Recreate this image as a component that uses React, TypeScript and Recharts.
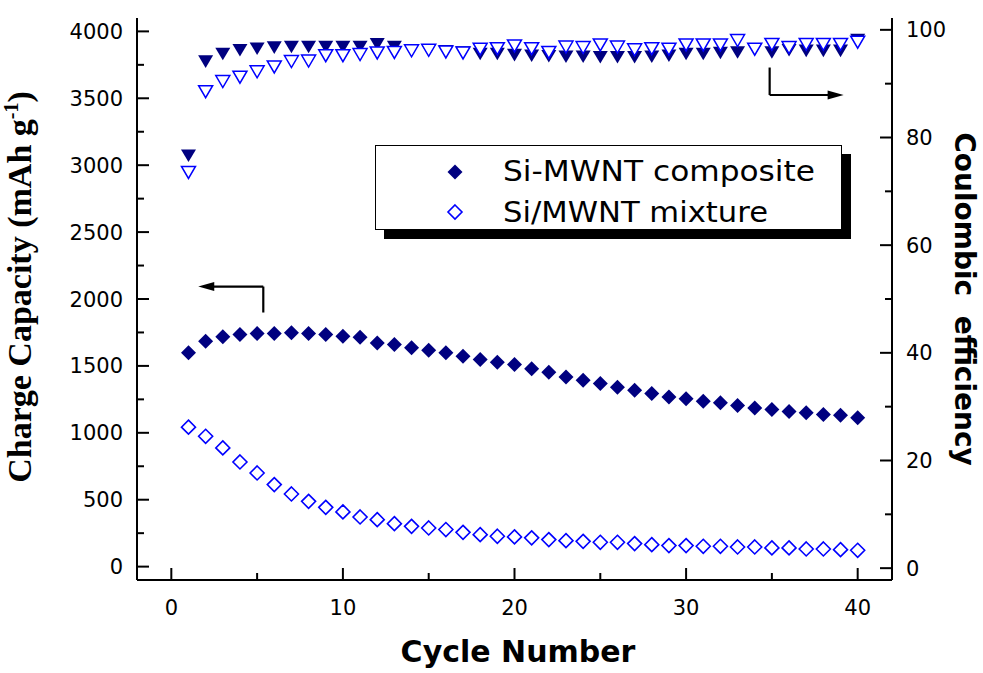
import React from 'react';
import { ComposedChart, Scatter, XAxis, YAxis, Legend, ReferenceLine } from 'recharts';

// ---------- data ----------
const cycles = [1, 2, 3, 4, 5, 6, 7, 8, 9, 10, 11, 12, 13, 14, 15, 16, 17, 18, 19, 20,
  21, 22, 23, 24, 25, 26, 27, 28, 29, 30, 31, 32, 33, 34, 35, 36, 37, 38, 39, 40];

const compositeCapacity = [1598, 1685, 1717, 1735, 1742, 1742, 1747, 1742, 1735, 1722,
  1714, 1672, 1660, 1635, 1617, 1598, 1573, 1548, 1528, 1510,
  1478, 1453, 1418, 1393, 1368, 1341, 1318, 1293, 1268, 1254,
  1236, 1224, 1204, 1186, 1174, 1159, 1149, 1136, 1131, 1112];

const mixtureCapacity = [1042, 974, 887, 782, 700, 613, 543, 488, 443, 409,
  371, 351, 321, 301, 289, 277, 256, 239, 227, 222,
  215, 202, 194, 189, 182, 182, 172, 164, 157, 157,
  152, 152, 147, 147, 140, 140, 132, 132, 127, 122];

const compositeEfficiency = [76.6, 94.1, 95.5, 96.2, 96.5, 96.7, 96.8, 96.8, 96.8, 96.8,
  96.8, 97.3, 96.8, 96.2, 96.2, 96.0, 95.8, 95.5, 95.5, 95.3,
  95.2, 95.1, 95.0, 95.0, 94.9, 94.9, 94.9, 95.0, 95.2, 95.5,
  95.5, 95.7, 95.8, 96.4, 95.8, 96.2, 96.1, 96.1, 96.1, 98.1];

const mixtureEfficiency = [73.5, 88.5, 90.4, 91.2, 92.2, 93.1, 94.1, 94.2, 95.2, 95.2,
  95.4, 95.7, 95.8, 96.1, 96.2, 95.9, 95.7, 96.4, 96.5, 97.0,
  96.5, 95.8, 96.8, 96.7, 97.2, 96.8, 96.3, 96.5, 96.4, 97.2,
  97.2, 97.2, 98.0, 96.4, 97.3, 96.7, 97.3, 97.3, 97.3, 97.7];

const seriesNames = ['Si-MWNT composite', 'Si/MWNT mixture'];

const xMajorTicks = [0, 10, 20, 30, 40];
const xMinorTicks = [5, 15, 25, 35];
const leftMajorTicks = [0, 500, 1000, 1500, 2000, 2500, 3000, 3500, 4000];
const leftMinorTicks = [250, 750, 1250, 1750, 2250, 2750, 3250, 3750];
const rightMajorTicks = [0, 20, 40, 60, 80, 100];
const rightMinorTicks = [10, 30, 50, 70, 90];

// arrow annotations (data coordinates)
const leftArrow = { x: 5.36, yFrom: 1899, yTo: 2093, tipX: 1.57 };
const rightArrow = { x: 34.87, yFrom: 93.0, yTo: 87.9, tipX: 39.18 };

// ---------- layout / styling ----------
const NAVY = '#000080';
const BLUE = '#0000FF';
const W = 983;
const H = 673;
const PLOT_LEFT = 137;
const PLOT_TOP = 18;
const PLOT_RIGHT = 892;
const PLOT_BOTTOM = 580;
const TICK_FONT = 'DejaVu Sans';

const toPoints = (vals: number[]) => cycles.map((c, i) => ({ x: c, y: vals[i] }));

const FilledDiamond = (p: any) => {
  const { cx, cy } = p;
  const r = 7.5;
  return <polygon points={`${cx},${cy - r} ${cx + r},${cy} ${cx},${cy + r} ${cx - r},${cy}`} fill={NAVY} />;
};
const OpenDiamond = (p: any) => {
  const { cx, cy } = p;
  const r = 7;
  return <polygon points={`${cx},${cy - r} ${cx + r},${cy} ${cx},${cy + r} ${cx - r},${cy}`} fill="#fff" stroke={BLUE} strokeWidth={1.6} />;
};
const FilledTri = (p: any) => {
  const { cx, cy } = p;
  return <polygon points={`${cx - 7.5},${cy - 6.3} ${cx + 7.5},${cy - 6.3} ${cx},${cy + 6.3}`} fill={NAVY} />;
};
const OpenTri = (p: any) => {
  const { cx, cy } = p;
  return <polygon points={`${cx - 7},${cy - 6} ${cx + 7},${cy - 6} ${cx},${cy + 6}`} fill="#fff" stroke={BLUE} strokeWidth={1.5} />;
};

const LeftTick = (p: any) => {
  const { y, payload } = p;
  const x = PLOT_LEFT;
  const major = leftMajorTicks.includes(payload.value);
  return (
    <g>
      <line x1={x} y1={y} x2={x + (major ? 12 : 7)} y2={y} stroke="#000" strokeWidth={2} />
      {major && (
        <text x={x - 14} y={y + 7.5} textAnchor="end" fontFamily={TICK_FONT} fontSize={21} fill="#000">
          {payload.value}
        </text>
      )}
    </g>
  );
};
const RightTick = (p: any) => {
  const { y, payload } = p;
  const x = PLOT_RIGHT;
  const major = rightMajorTicks.includes(payload.value);
  return (
    <g>
      <line x1={x} y1={y} x2={x - (major ? 12 : 7)} y2={y} stroke="#000" strokeWidth={2} />
      {major && (
        <text x={x + 14} y={y + 7.5} textAnchor="start" fontFamily={TICK_FONT} fontSize={21} fill="#000">
          {payload.value}
        </text>
      )}
    </g>
  );
};
const BottomTick = (p: any) => {
  const { x, payload } = p;
  const y = PLOT_BOTTOM;
  const major = xMajorTicks.includes(payload.value);
  return (
    <g>
      <line x1={x} y1={y} x2={x} y2={y - (major ? 12 : 7)} stroke="#000" strokeWidth={2} />
      {major && (
        <text x={x} y={y + 35} textAnchor="middle" fontFamily={TICK_FONT} fontSize={21} fill="#000">
          {payload.value}
        </text>
      )}
    </g>
  );
};

const LeftTitle = () => {
  const cx = 31;
  const cy = (PLOT_TOP + PLOT_BOTTOM) / 2 - 12;
  return (
    <text x={cx} y={cy} transform={`rotate(-90, ${cx}, ${cy})`} textAnchor="middle"
      fontFamily="Liberation Serif" fontWeight="bold" fontSize={34} fill="#000">
      Charge Capacity (mAh g<tspan dy={-13} fontSize={20}>-1</tspan><tspan dy={13}>)</tspan>
    </text>
  );
};
const RightTitle = () => {
  const cx = PLOT_RIGHT + 63;
  const cy = (PLOT_TOP + PLOT_BOTTOM) / 2;
  return (
    <text x={cx} y={cy} transform={`rotate(90, ${cx}, ${cy})`} textAnchor="middle"
      fontFamily="DejaVu Sans" fontWeight="bold" fontSize={28} fill="#000" style={{ whiteSpace: 'pre' }}>
      {'Coulombic  efficiency'}
    </text>
  );
};
const BottomTitle = () => (
  <text x={(PLOT_LEFT + PLOT_RIGHT) / 2 + 3.5} y={PLOT_BOTTOM + 82} textAnchor="middle"
    fontFamily="DejaVu Sans" fontWeight="bold" fontSize={30} fill="#000">
    Cycle Number
  </text>
);

const ArrowShape = (withHead: boolean) => (p: any) => {
  const { x1, y1, x2, y2 } = p;
  if (![x1, y1, x2, y2].every((v) => typeof v === 'number' && isFinite(v))) return <g />;
  const dx = x2 - x1;
  const dy = y2 - y1;
  const len = Math.sqrt(dx * dx + dy * dy) || 1;
  const ux = dx / len;
  const uy = dy / len;
  const hl = 16;
  const hw = 4.5;
  const bx = x2 - ux * hl;
  const by = y2 - uy * hl;
  return (
    <g>
      <line x1={x1} y1={y1} x2={withHead ? bx + ux * 2 : x2} y2={withHead ? by + uy * 2 : y2} stroke="#000" strokeWidth={2.2} />
      {withHead && (
        <polygon points={`${x2},${y2} ${bx - uy * hw},${by + ux * hw} ${bx + uy * hw},${by - ux * hw}`} fill="#000" />
      )}
    </g>
  );
};

const LegendBox = (p: any) => {
  const payload = (p.payload || []).filter((e: any) => e && e.type !== 'none');
  const names = payload.length === 2 ? payload.map((e: any) => e.value) : seriesNames;
  return (
    <div style={{ width: 467, height: 85, boxSizing: 'border-box', border: '1.5px solid #000', background: '#fff', boxShadow: '9px 9px 0 #000', position: 'relative' }}>
      <svg width={467} height={85} style={{ position: 'absolute', left: -1.5, top: -1.5, overflow: 'visible' }}>
        <FilledDiamond cx={80} cy={27} />
        <text x={128} y={36} fontFamily="DejaVu Sans" fontSize={28} fill="#000" textLength={312} lengthAdjust="spacingAndGlyphs">{names[0]}</text>
        <OpenDiamond cx={80} cy={67} />
        <text x={128} y={77} fontFamily="DejaVu Sans" fontSize={28} fill="#000" textLength={265} lengthAdjust="spacingAndGlyphs">{names[1]}</text>
      </svg>
    </div>
  );
};

export default function App() {
  return (
    <div style={{ position: 'absolute', left: 0, top: 0, width: W, height: H, background: '#fff' }}>
      <ComposedChart width={W} height={H} margin={{ top: PLOT_TOP, right: 0, bottom: 0, left: 0 }}>
        <XAxis xAxisId="bottom" type="number" dataKey="x" domain={[-2, 42]}
          ticks={[...xMajorTicks, ...xMinorTicks].sort((a, b) => a - b)} interval={0}
          height={H - PLOT_BOTTOM} tickLine={false}
          axisLine={{ stroke: '#000', strokeWidth: 2 }} tick={BottomTick}
          label={<BottomTitle />} />
        <XAxis xAxisId="top" orientation="top" type="number" dataKey="x" domain={[-2, 42]}
          height={0} tick={false} tickLine={false} axisLine={{ stroke: '#000', strokeWidth: 2 }} />
        <YAxis yAxisId="left" type="number" dataKey="y" domain={[-100, 4100]}
          ticks={[...leftMajorTicks, ...leftMinorTicks].sort((a, b) => a - b)} interval={0}
          width={PLOT_LEFT} tickLine={false}
          axisLine={{ stroke: '#000', strokeWidth: 2 }} tick={LeftTick}
          label={<LeftTitle />} />
        <YAxis yAxisId="right" orientation="right" type="number" dataKey="y" domain={[-2.2, 102.2]}
          ticks={[...rightMajorTicks, ...rightMinorTicks].sort((a, b) => a - b)} interval={0}
          width={W - PLOT_RIGHT} tickLine={false}
          axisLine={{ stroke: '#000', strokeWidth: 2 }} tick={RightTick}
          label={<RightTitle />} />

        <Scatter name="Si-MWNT composite CE" data={toPoints(compositeEfficiency)} xAxisId="bottom" yAxisId="right"
          shape={FilledTri} legendType="none" isAnimationActive={false} />
        <Scatter name="Si/MWNT mixture CE" data={toPoints(mixtureEfficiency)} xAxisId="bottom" yAxisId="right"
          shape={OpenTri} legendType="none" isAnimationActive={false} />
        <Scatter name={seriesNames[0]} data={toPoints(compositeCapacity)} xAxisId="bottom" yAxisId="left"
          shape={FilledDiamond} fill={NAVY} legendType="diamond" isAnimationActive={false} />
        <Scatter name={seriesNames[1]} data={toPoints(mixtureCapacity)} xAxisId="bottom" yAxisId="left"
          shape={OpenDiamond} fill={BLUE} legendType="diamond" isAnimationActive={false} />

        <ReferenceLine xAxisId="bottom" yAxisId="left" ifOverflow="visible"
          segment={[{ x: leftArrow.x, y: leftArrow.yFrom }, { x: leftArrow.x, y: leftArrow.yTo }]}
          shape={ArrowShape(false)} />
        <ReferenceLine xAxisId="bottom" yAxisId="left" ifOverflow="visible"
          segment={[{ x: leftArrow.x, y: leftArrow.yTo }, { x: leftArrow.tipX, y: leftArrow.yTo }]}
          shape={ArrowShape(true)} />
        <ReferenceLine xAxisId="bottom" yAxisId="right" ifOverflow="visible"
          segment={[{ x: rightArrow.x, y: rightArrow.yFrom }, { x: rightArrow.x, y: rightArrow.yTo }]}
          shape={ArrowShape(false)} />
        <ReferenceLine xAxisId="bottom" yAxisId="right" ifOverflow="visible"
          segment={[{ x: rightArrow.x, y: rightArrow.yTo }, { x: rightArrow.tipX, y: rightArrow.yTo }]}
          shape={ArrowShape(true)} />

        <Legend layout="horizontal" verticalAlign="middle" align="center" content={<LegendBox />}
          wrapperStyle={{ position: 'absolute', left: 375, top: 145, width: 467, height: 85 }} />
      </ComposedChart>
    </div>
  );
}
